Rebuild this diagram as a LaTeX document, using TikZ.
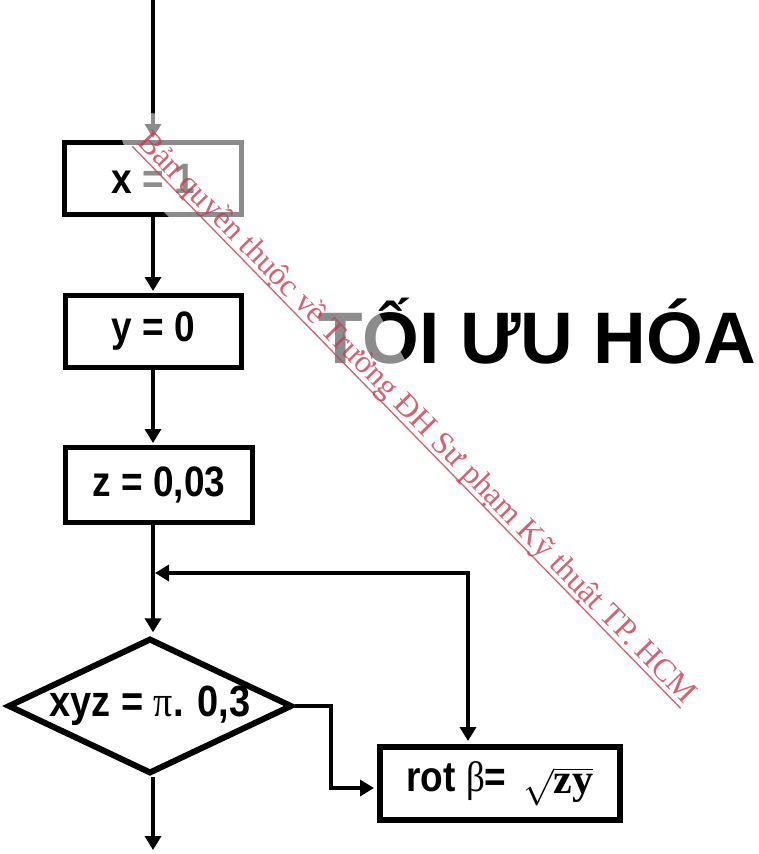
\RequirePackage{fix-cm}
\documentclass[tikz,border=0pt]{standalone}
\usepackage{fontspec}
\setmainfont{Liberation Sans}
\newfontfamily\seriffont{Liberation Serif}
\usetikzlibrary{shapes.geometric,arrows.meta}
\definecolor{wmred}{RGB}{200,60,80}
\newcommand{\tallbox}[1]{\scalebox{1}[1.15]{#1}}
\begin{document}
\begin{tikzpicture}[x=1pt,y=-1pt,
  procbox/.style={draw,line width=5pt,inner sep=0pt,font=\fontsize{37}{40}\selectfont\bfseries},
  decision/.style={draw,diamond,line width=6pt,inner sep=0pt,aspect=2.1,font=\fontsize{38}{40}\selectfont\bfseries},
  tipA/.tip={Triangle[length=14pt,width=16pt]},
  flow/.style={line width=4pt,-tipA},
  loopflow/.style={line width=4pt,tipA-tipA}
]
\useasboundingbox (0,0) rectangle (759,854);
% process boxes
\node[procbox,minimum width=177pt,minimum height=72pt] (b1) at (153,178.5) {\tallbox{x = 1}};
\node[procbox,minimum width=176pt,minimum height=72pt] (b2) at (153,331.5) {\tallbox{y = 0}};
\node[procbox,minimum width=187pt,minimum height=75pt] (b3) at (159,485) {\tallbox{z = 0,03}};
\node[decision,minimum width=277pt,minimum height=132pt] (d) at (150,706)
  {\tallbox{xyz = {\seriffont\mdseries π}. 0,3}};
\node[draw,line width=6pt,inner sep=0pt,minimum width=240pt,minimum height=73pt,
  font=\fontsize{37}{40}\selectfont\bfseries] (rot) at (500,783.5)
  {\tallbox{rot {\seriffont\mdseries β}=} \,\raisebox{-2pt}{$\sqrt{\hbox{\fontsize{42}{44}\seriffont\bfseries zy}}$}};
% title
\node[font=\fontsize{73}{80}\selectfont\bfseries,anchor=base west,inner sep=0pt] (title) at (318,363) {TỐI ƯU HÓA};
% connectors
\coordinate (top) at (153,0);
\coordinate (j) at (155,573);
\coordinate (lc) at (468,573);
\coordinate (bot) at (153,850);
\draw[flow,shorten >=2pt] (top) -- (b1.north);
\draw[flow,shorten >=2pt] (b1.south) -- (b2.north);
\draw[flow,shorten >=2pt] (b2.south) -- (b2.south |- b3.north);
\draw[flow,shorten >=3pt] (b3.south -| b2.south) -- (b2.south |- d.north);
\draw[loopflow,shorten >=3pt] (j) -- (lc) -- (lc |- rot.north);
\draw[flow,shorten >=3pt] (d.east) -- ++(36,0) |- ([yshift=-4.5pt]rot.west);
\draw[flow] (bot |- d.south) -- (bot);
% watermark band
\fill[white,opacity=0.55] (122,112) -- (268,118) -- (412,372) -- (759,719) -- (759,807) -- (140,188) -- (122,140) -- cycle;
% watermark text
\node[anchor=base west,rotate=-45.7,inner sep=0pt,text=wmred,opacity=0.8,
  font=\seriffont\fontsize{32}{34}\selectfont] (wm) at (136,143)
  {Bản quyền thuộc về Trường ĐH Sư phạm Kỹ thuật TP. HCM};
\draw[wmred,opacity=0.8,line width=1.3pt] ([xshift=-3.6pt,yshift=-3.5pt]wm.base west) -- ([xshift=-3.6pt,yshift=-3.5pt]wm.base east);
\end{tikzpicture}
\end{document}
